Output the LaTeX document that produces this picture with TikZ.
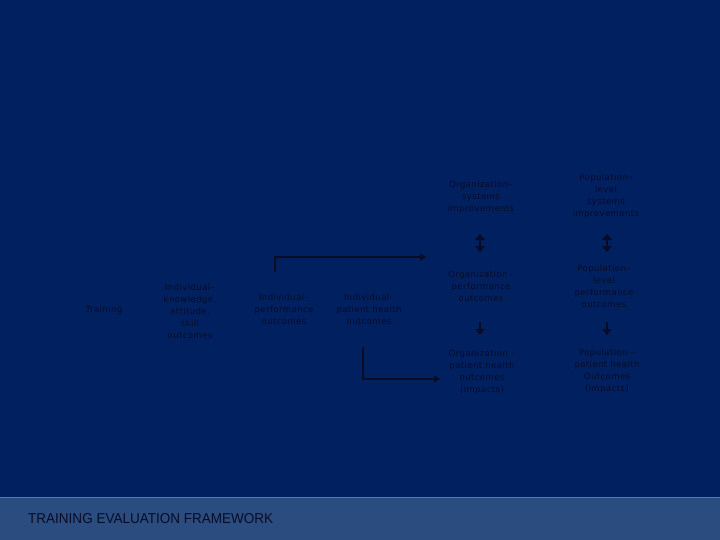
\documentclass[tikz,border=0pt]{standalone}
\usepackage{fontspec}
\setmainfont{DejaVu Sans}[LetterSpace=5]
\newfontfamily\titlefont{Liberation Sans}
\usetikzlibrary{arrows.meta}
\definecolor{bg}{HTML}{002060}
\definecolor{strip}{HTML}{2B4C7E}
\definecolor{stripline}{HTML}{4A7BBF}
\definecolor{ink}{HTML}{080C26}
\tikzset{
  lbl/.style={text=ink, align=center, font=\fontsize{8.5}{12}\selectfont, inner sep=0pt},
  conn/.style={draw=ink, line width=1.4pt, -{Triangle[length=6pt,width=7pt]}},
  dbl/.style={draw=ink, line width=2.6pt, {Triangle[length=6pt,width=10pt]}-{Triangle[length=6pt,width=10pt]}},
  dn/.style={draw=ink, line width=2pt, -{Triangle[length=6pt,width=9pt]}}
}
\begin{document}
\begin{tikzpicture}[x=1pt,y=-1pt]
\useasboundingbox (0,0) rectangle (720,540);
\fill[bg] (0,0) rectangle (720,540);
\fill[strip] (0,497) rectangle (720,540);
\draw[stripline, line width=1pt] (0,497) -- (720,497);
\node[text=ink, anchor=base west, inner sep=0pt] (title) at (28,523) {\resizebox{245pt}{10pt}{\titlefont TRAINING EVALUATION FRAMEWORK}};

\node[lbl] (train) at (104,310) {Training};
\node[lbl] (ika) at (190,311) {Individual–\\knowledge,\\attitude,\\skill\\outcomes};
\node[lbl] (ipo) at (284,309) {Individual–\\performance\\outcomes};
\node[lbl] (iph) at (369,309) {Individual–\\patient health\\outcomes};
\node[lbl] (osi) at (481,197) {Organization–\\systems\\improvements};
\node[lbl] (psi) at (606,196) {Population–\\level\\systems\\improvements};
\node[lbl] (opo) at (481,286) {Organization -\\performance\\outcomes};
\node[lbl] (ppo) at (604,286) {Population–\\level\\performance\\outcomes};
\node[lbl] (oph) at (482,372) {Organization –\\patient health\\outcomes\\(impacts)};
\node[lbl] (pph) at (607,371) {Population –\\patient health\\Outcomes\\(impacts)};

\coordinate (a1) at (275,272);
\coordinate (a2) at (275,257);
\coordinate (a3) at (426,257);
\draw[conn] (a1) -- (a2) -- (a3);
\coordinate (b1) at (363,347);
\coordinate (b2) at (363,379);
\coordinate (b3) at (440,379);
\draw[conn] (b1) -- (b2) -- (b3);

\coordinate (d1t) at (480,234);
\coordinate (d1b) at (480,252);
\draw[dbl] (d1t) -- (d1b);
\coordinate (d2t) at (607,234);
\coordinate (d2b) at (607,252);
\draw[dbl] (d2t) -- (d2b);

\coordinate (e1t) at (480,322);
\coordinate (e1b) at (480,335);
\draw[dn] (e1t) -- (e1b);
\coordinate (e2t) at (607,322);
\coordinate (e2b) at (607,335);
\draw[dn] (e2t) -- (e2b);
\end{tikzpicture}
\end{document}
